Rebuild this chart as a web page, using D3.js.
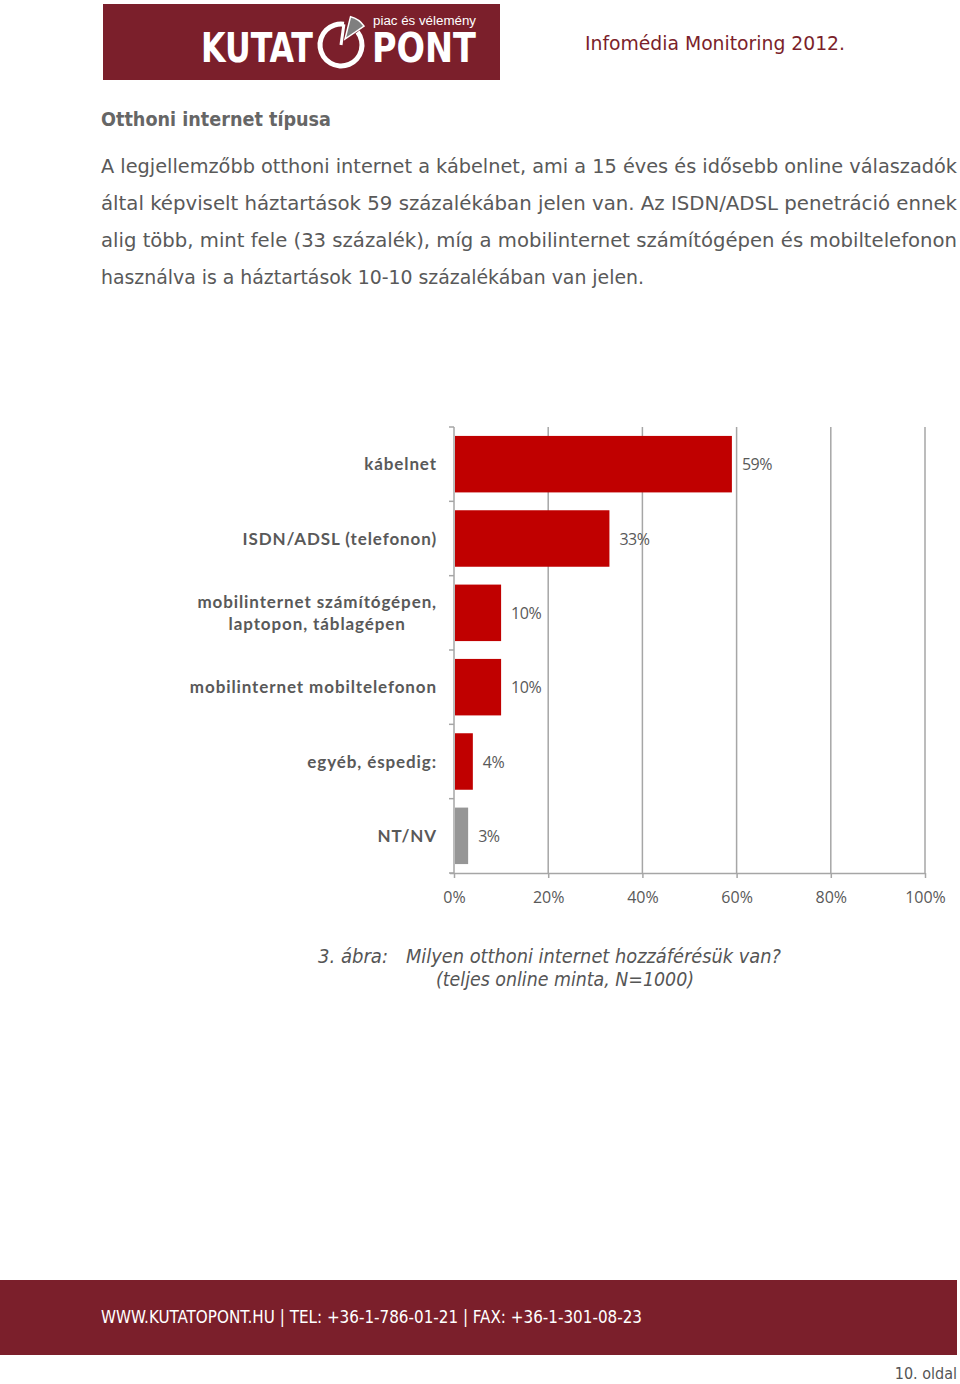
<!DOCTYPE html>
<html><head><meta charset="utf-8">
<script src="https://cdn.jsdelivr.net/npm/d3@7"></script>
<style>html,body{margin:0;padding:0;background:#fff;}svg{display:block;}</style>
</head><body>
<script>
// ---- data ----
const categories = ["kábelnet", "ISDN/ADSL (telefonon)", "mobilinternet számítógépen,\nlaptopon, táblagépen", "mobilinternet mobiltelefonon", "egyéb, éspedig:", "NT/NV"];
const values = [59, 33, 10, 10, 4, 3];
const barColors = ["#C00000", "#C00000", "#C00000", "#C00000", "#C00000", "#969696"];
const tickValues = [0, 20, 40, 60, 80, 100];
const tickLabels = ["0%", "20%", "40%", "60%", "80%", "100%"];
const heading = "Otthoni internet típusa";
const bodyLines = [
  "A legjellemzőbb otthoni internet a kábelnet, ami a 15 éves és idősebb online válaszadók",
  "által képviselt háztartások 59 százalékában jelen van. Az ISDN/ADSL penetráció ennek",
  "alig több, mint fele (33 százalék), míg a mobilinternet számítógépen és mobiltelefonon",
  "használva is a háztartások 10-10 százalékában van jelen."
];
const captionLines = ["3. ábra:", "Milyen otthoni internet hozzáférésük van?", "(teljes online minta, N=1000)"];
const footerText = "WWW.KUTATOPONT.HU | TEL: +36-1-786-01-21 | FAX: +36-1-301-08-23";

const W = 960, H = 1384;
const maroon = "#7B1F2B";
const svg = d3.select("body").append("svg").attr("width", W).attr("height", H);

function fitText(sel, target) {
  sel.attr("textLength", target).attr("lengthAdjust", "spacingAndGlyphs");
}

// ---- header ----
svg.append("rect").attr("x", 103).attr("y", 4).attr("width", 397).attr("height", 76).attr("fill", maroon);
const kt = svg.append("text").attr("x", 201).attr("y", 62).attr("fill", "#fff")
  .attr("font-family", "DejaVu Sans Condensed, DejaVu Sans").attr("font-weight", "bold").attr("font-size", 40).text("KUTAT");
fitText(kt, 112);
const pt = svg.append("text").attr("x", 372).attr("y", 62).attr("fill", "#fff")
  .attr("font-family", "DejaVu Sans Condensed, DejaVu Sans").attr("font-weight", "bold").attr("font-size", 40).text("PONT");
fitText(pt, 104);
// ring logo
const cx = 341, cy = 45, r = 21;
const arcGen = d3.arc().innerRadius(r - 2.5).outerRadius(r + 2.5)
  .startAngle(52 * Math.PI / 180).endAngle((360 + 8) * Math.PI / 180);
svg.append("path").attr("transform", `translate(${cx},${cy})`).attr("d", arcGen()).attr("fill", "#fff");
svg.append("line").attr("x1", cx).attr("y1", cy).attr("x2", cx + r * Math.sin(8 * Math.PI / 180)).attr("y2", cy - r * Math.cos(8 * Math.PI / 180))
  .attr("stroke", "#fff").attr("stroke-width", 3);
const wedge = d3.arc().innerRadius(0).outerRadius(r + 2).startAngle(14 * Math.PI / 180).endAngle(56 * Math.PI / 180);
svg.append("path").attr("transform", `translate(${cx + 4},${cy - 6})`).attr("d", wedge()).attr("fill", "#7f7f7f").attr("stroke", "#fff").attr("stroke-width", 1.5);
const pv = svg.append("text").attr("x", 373).attr("y", 25).attr("fill", "#fff")
  .attr("font-family", "Liberation Sans, Arial").attr("font-size", 12.5).text("piac és vélemény");
fitText(pv, 103);

const im = svg.append("text").attr("x", 585).attr("y", 50).attr("fill", maroon)
  .attr("font-family", "DejaVu Sans Condensed, DejaVu Sans").attr("font-size", 20).text("Infomédia Monitoring 2012.");
fitText(im, 260);

// ---- heading & body ----
const hd = svg.append("text").attr("x", 101).attr("y", 126).attr("fill", "#666")
  .attr("font-family", "DejaVu Sans Condensed, DejaVu Sans").attr("font-weight", "bold").attr("font-size", 20).text(heading);
fitText(hd, 230);
const bodyWidths = [856, 856, 856, 543];
bodyLines.forEach((t, i) => {
  const el = svg.append("text").attr("x", 101).attr("y", 173 + 37 * i).attr("fill", "#595959")
    .attr("font-family", "DejaVu Sans Condensed, DejaVu Sans").attr("font-size", 20).text(t);
  fitText(el, bodyWidths[i]);
});

// ---- chart ----
const x = d3.scaleLinear().domain([0, 100]).range([454, 925]);
const y = d3.scaleBand().domain(categories).range([427, 873]).padding(0);
const bw = y.bandwidth();
const gridColor = "#A6A6A6";
const g = svg.append("g");

// gridlines
g.selectAll(".grid").data(tickValues.slice(1)).join("line")
  .attr("x1", d => x(d)).attr("x2", d => x(d)).attr("y1", 427).attr("y2", 873)
  .attr("stroke", gridColor).attr("stroke-width", 1.5);

// bottom axis
const xAxis = d3.axisBottom(x).tickValues(tickValues).tickFormat((d, i) => tickLabels[i]).tickSize(5).tickPadding(14);
const xa = g.append("g").attr("transform", "translate(0,873)").call(xAxis);
xa.select(".domain").attr("d", `M450,0.5H925`).attr("stroke", gridColor).attr("stroke-width", 1.5);
xa.selectAll(".tick line").attr("stroke", gridColor).attr("stroke-width", 1.5);
xa.selectAll(".tick text").attr("fill", "#595959").attr("font-family", "Open Sans, sans-serif").attr("font-size", 16);

// left axis line with category boundary ticks
const bounds = categories.map(c => y(c)).concat([873]);
g.append("line").attr("x1", 454).attr("x2", 454).attr("y1", 427).attr("y2", 873).attr("stroke", gridColor).attr("stroke-width", 1.5);
g.selectAll(".ytick").data(bounds).join("line")
  .attr("x1", 449).attr("x2", 454).attr("y1", d => d).attr("y2", d => d)
  .attr("stroke", gridColor).attr("stroke-width", 1.5);

// bars
g.selectAll(".bar").data(categories).join("rect")
  .attr("x", x(0) + 1).attr("y", d => y(d) + bw * 0.12)
  .attr("width", (d, i) => x(values[i]) - x(0) - 1).attr("height", bw * 0.76)
  .attr("fill", (d, i) => barColors[i]);

// value labels
g.selectAll(".val").data(categories).join("text")
  .attr("x", (d, i) => x(values[i]) + 10).attr("y", d => y(d) + bw / 2 + 6)
  .attr("fill", "#595959").attr("font-family", "Open Sans, sans-serif").attr("font-size", 16)
  .attr("letter-spacing", -0.5)
  .text((d, i) => values[i] + "%");

// category labels
categories.forEach(c => {
  const lines = c.split("\n");
  const cyc = y(c) + bw / 2;
  const grp = g.append("g");
  const els = lines.map((t, k) => grp.append("text")
    .attr("y", cyc + 6 + (k - (lines.length - 1) / 2) * 22)
    .attr("fill", "#595959").attr("font-family", "Lato, sans-serif").attr("font-weight", "bold").attr("font-size", 17)
    .attr("letter-spacing", 0.9)
    .text(t));
  const widths = els.map(e => e.node().getComputedTextLength());
  const maxW = Math.max(...widths);
  const center = 437 - maxW / 2;
  els.forEach(e => e.attr("x", center).attr("text-anchor", "middle"));
});

// caption
const cap1 = svg.append("text").attr("x", 318).attr("y", 963).attr("fill", "#555")
  .attr("font-family", "DejaVu Sans Condensed, DejaVu Sans").attr("font-style", "italic").attr("font-size", 19).text(captionLines[0]);
fitText(cap1, 70);
const cap2 = svg.append("text").attr("x", 406).attr("y", 963).attr("fill", "#555")
  .attr("font-family", "DejaVu Sans Condensed, DejaVu Sans").attr("font-style", "italic").attr("font-size", 19).text(captionLines[1]);
fitText(cap2, 375);
const cap3 = svg.append("text").attr("x", 436).attr("y", 986).attr("fill", "#555")
  .attr("font-family", "DejaVu Sans Condensed, DejaVu Sans").attr("font-style", "italic").attr("font-size", 19).text(captionLines[2]);
fitText(cap3, 258);

// ---- footer ----
svg.append("rect").attr("x", 0).attr("y", 1280).attr("width", 957).attr("height", 75).attr("fill", maroon);
const ft = svg.append("text").attr("x", 101).attr("y", 1323).attr("fill", "#fff")
  .attr("font-family", "DejaVu Sans Condensed, DejaVu Sans").attr("font-size", 17).text(footerText);
fitText(ft, 541);
svg.append("text").attr("x", 957).attr("y", 1379).attr("text-anchor", "end").attr("fill", "#555")
  .attr("font-family", "DejaVu Sans Condensed, DejaVu Sans").attr("font-size", 16).text("10. oldal");
</script>
</body></html>
